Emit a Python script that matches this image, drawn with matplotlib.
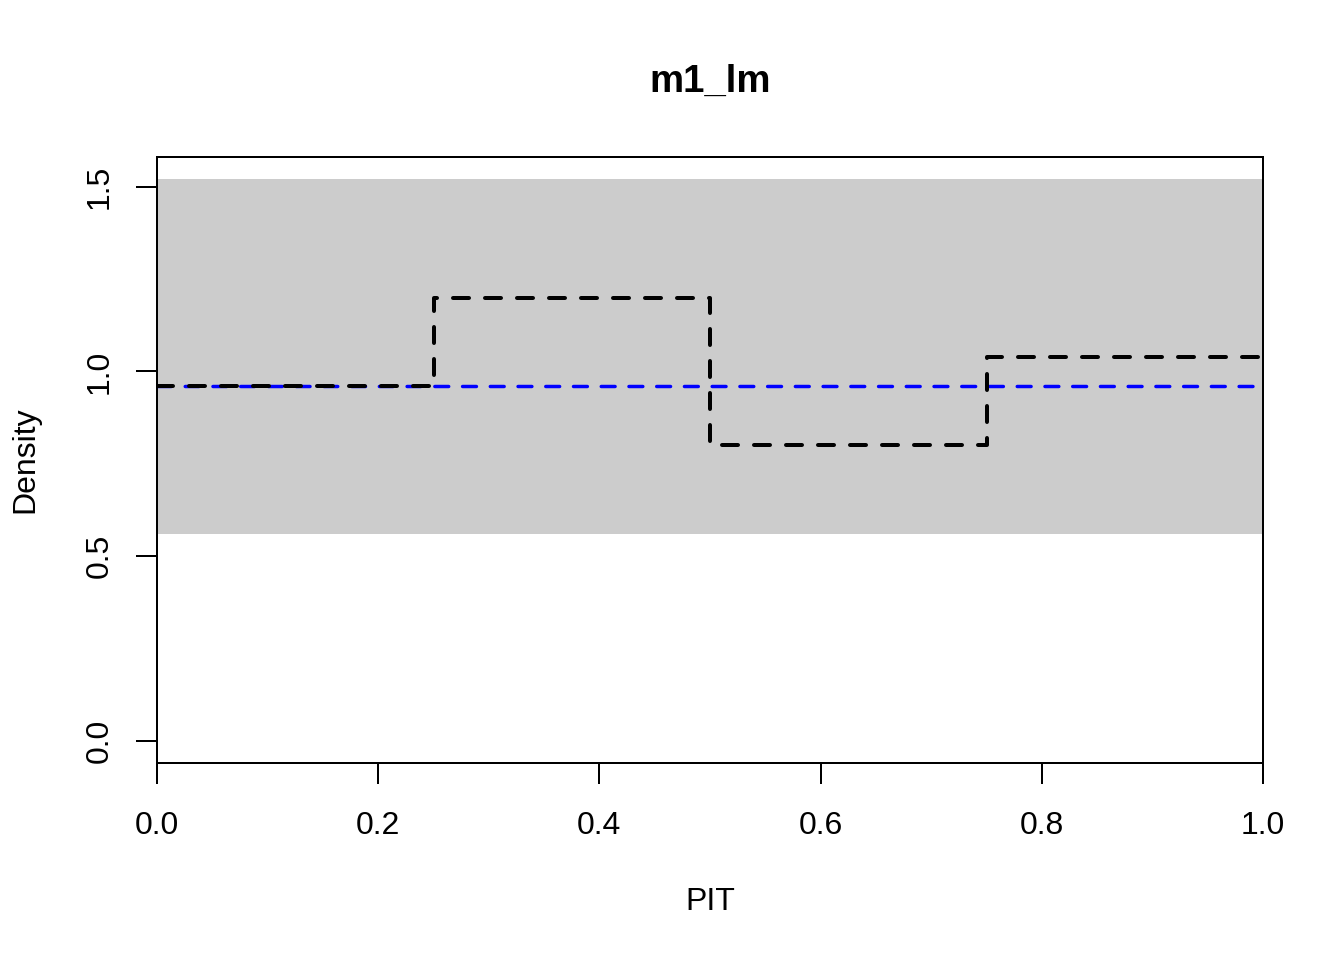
import matplotlib
matplotlib.use("Agg")
import matplotlib.pyplot as plt

plt.rcParams['font.family'] = ['Liberation Sans', 'DejaVu Sans']

# PIT histogram (4 bins) and reference band
bin_edges = [0.0, 0.25, 0.5, 0.75, 1.0]
bin_density = [0.96, 1.2, 0.8, 1.04]
band_low, band_high = 0.56, 1.52
ref_level = 0.96

x_ticks = [0.0, 0.2, 0.4, 0.6, 0.8, 1.0]
y_ticks = [0.0, 0.5, 1.0, 1.5]

fig = plt.figure(figsize=(7, 5), dpi=192, facecolor='white')
ax = fig.add_axes([157/1344, 1 - 763/960, (1263-157)/1344, (763-157)/960])

ax.fill_between([bin_edges[0], bin_edges[-1]], band_low, band_high,
                color='#CCCCCC', linewidth=0)

ax.plot([bin_edges[0], bin_edges[-1]], [ref_level, ref_level], color='blue',
        linewidth=1.3, linestyle=(0, (4, 4)), dash_capstyle='round')

# step outline of the histogram
sx, sy = [], []
for i, d in enumerate(bin_density):
    sx += [bin_edges[i], bin_edges[i+1]]
    sy += [d, d]
ax.plot(sx, sy, color='black', linewidth=1.5, linestyle=(0, (4, 4)),
        dash_capstyle='round')

ymax = 1.52
pad = 0.04 * ymax
ax.set_xlim(0, 1)
ax.set_ylim(-pad, ymax + pad)

for s in ['top', 'right', 'left', 'bottom']:
    ax.spines[s].set_linewidth(0.75)

ax.set_xticks(x_ticks)
ax.set_xticklabels([f"{v:.1f}" for v in x_ticks])
ax.set_yticks(y_ticks)
ax.set_yticklabels([f"{v:.1f}" for v in y_ticks], rotation=90, va='center')
ax.tick_params(axis='both', length=7.9, width=0.75, labelsize=12, direction='out')
ax.tick_params(axis='x', pad=10)
ax.tick_params(axis='y', pad=8)

fig.text(710/1344, 1 - 82/960, 'm1_lm', ha='center', va='center',
         fontsize=14.4, fontweight='bold')
fig.text(710/1344, 1 - 902/960, 'PIT', ha='center', va='center', fontsize=12)
fig.text(25/1344, 1 - 460/960, 'Density', ha='center', va='center',
         fontsize=12, rotation=90)

fig.savefig('out.png', dpi=192, facecolor='white')
